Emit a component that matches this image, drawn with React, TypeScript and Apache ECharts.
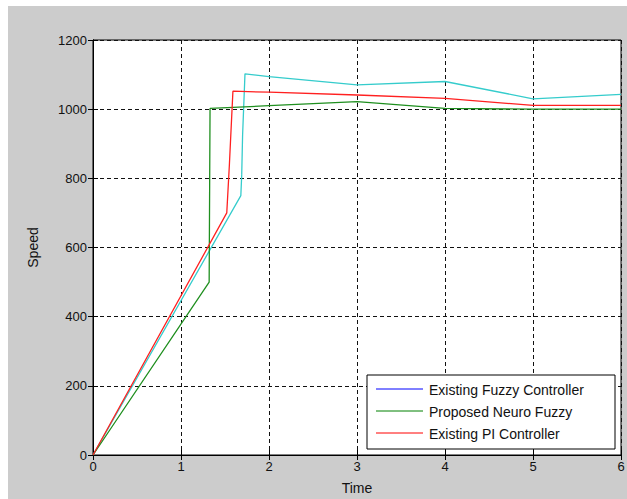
import React, { useEffect, useRef } from "react";
import * as echarts from "echarts";

const xMin = 0;
const xMax = 6;
const yMin = 0;
const yMax = 1200;
const xStep = 1;
const yStep = 200;

const seriesNames = ["Existing Fuzzy Controller", "Proposed Neuro Fuzzy", "Existing PI Controller"];
const legendColors = ["#0000ff", "#008000", "#ff0000"];
const lineColors = ["#35cccc", "#1f8f1f", "#ff2020"];

const fuzzyX = [0, 1.68, 1.69, 1.7, 1.727, 2, 3, 4, 5, 6];
const fuzzyY = [0, 750, 810, 925, 1102, 1094, 1070, 1080, 1030, 1043];
const neuroX = [0, 1.32, 1.33, 2, 3, 4, 5, 6];
const neuroY = [0, 500, 1002, 1010, 1022, 1002, 1000, 1000];
const piX = [0, 1.52, 1.55, 1.565, 1.59, 2, 3, 4, 5, 6];
const piY = [0, 700, 840, 920, 1052, 1049, 1041, 1031, 1011, 1011];

const zip = (xs: number[], ys: number[]) => xs.map((x, i) => [x, ys[i]]);

export default function App() {
  const ref = useRef<HTMLDivElement>(null);
  useEffect(() => {
    if (!ref.current) return;
    const chart = echarts.init(ref.current, null, { renderer: "svg" });
    const font = "Liberation Sans, Arial, sans-serif";
    const splitLine = { show: true, lineStyle: { color: "#111", type: [4, 3] as any, width: 1 } };
    const tickStyle = { show: true, inside: true, length: 5, lineStyle: { color: "#000" } };
    const legendRows = seriesNames.map((n, i) => {
      const y = 389 + i * 22;
      return [
        { type: "line", shape: { x1: 376, y1: y, x2: 423, y2: y }, style: { stroke: legendColors[i], lineWidth: 1 }, z: 101 },
        {
          type: "text", x: 429, y: y + 1,
          style: { text: n, fill: "#111", font: `14px ${font}`, verticalAlign: "middle", align: "left" }, z: 101,
        },
      ];
    }).flat();
    chart.setOption({
      animation: false,
      backgroundColor: "transparent",
      graphic: [
        { type: "rect", shape: { x: 8, y: 6, width: 619, height: 493 }, style: { fill: "#cccccc" }, z: -10, silent: true },
        { type: "rect", shape: { x: 367, y: 375, width: 248, height: 74 }, style: { fill: "#fff", stroke: "#000", lineWidth: 1 }, z: 100 },
        ...legendRows,
      ],
      grid: {
        left: 93, top: 40, width: 528, height: 415, show: true, backgroundColor: "#fff",
        borderColor: "#000", borderWidth: 1, containLabel: false, outerBoundsMode: "none",
      },
      xAxis: [
        {
          type: "value", min: xMin, max: xMax, interval: xStep, position: "bottom",
          name: "Time", nameLocation: "middle", nameGap: 26,
          nameTextStyle: { color: "#111", fontSize: 14, fontFamily: font },
          axisLine: { show: true, lineStyle: { color: "#000" } },
          axisTick: tickStyle,
          axisLabel: { color: "#111", fontSize: 13, fontFamily: font, margin: 5, formatter: (v: number) => String(v) },
          splitLine,
        },
        {
          type: "value", min: xMin, max: xMax, interval: xStep, position: "top",
          axisLine: { show: true, lineStyle: { color: "#000" } },
          axisTick: tickStyle, axisLabel: { show: false }, splitLine: { show: false },
        },
      ],
      yAxis: [
        {
          type: "value", min: yMin, max: yMax, interval: yStep, position: "left",
          name: "Speed", nameLocation: "middle", nameGap: 53, nameRotate: 90,
          nameTextStyle: { color: "#111", fontSize: 14, fontFamily: font },
          axisLine: { show: true, lineStyle: { color: "#000" } },
          axisTick: tickStyle,
          axisLabel: { color: "#111", fontSize: 13, fontFamily: font, margin: 6, formatter: (v: number) => String(v) },
          splitLine,
        },
        {
          type: "value", min: yMin, max: yMax, interval: yStep, position: "right",
          axisLine: { show: true, lineStyle: { color: "#000" } },
          axisTick: tickStyle, axisLabel: { show: false }, splitLine: { show: false },
        },
      ],
      series: [
        { name: seriesNames[0], type: "line", data: zip(fuzzyX, fuzzyY), showSymbol: false, lineStyle: { color: lineColors[0], width: 1.3 }, itemStyle: { color: lineColors[0] } },
        { name: seriesNames[1], type: "line", data: zip(neuroX, neuroY), showSymbol: false, lineStyle: { color: lineColors[1], width: 1.3 }, itemStyle: { color: lineColors[1] } },
        { name: seriesNames[2], type: "line", data: zip(piX, piY), showSymbol: false, lineStyle: { color: lineColors[2], width: 1.3 }, itemStyle: { color: lineColors[2] } },
      ],
    });
    return () => chart.dispose();
  }, []);
  return (
    <div style={{ position: "fixed", left: 0, top: 0, width: 627, height: 499, background: "#fff" }}>
      <div ref={ref} style={{ width: 627, height: 499 }} />
    </div>
  );
}
